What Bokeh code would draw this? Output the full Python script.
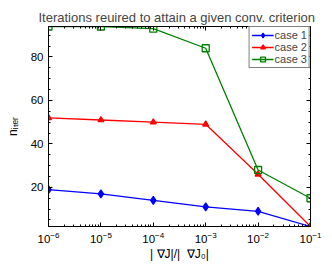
import math
from bokeh.plotting import figure
from bokeh.models import (Range1d, LogAxis, LinearAxis, FixedTicker, Legend, LegendItem)
from bokeh.embed import file_html
from bokeh.resources import INLINE

# data
criteria = [1e-6, 1e-5, 1e-4, 1e-3, 1e-2, 1e-1]
case1 = [19, 17, 14, 11, 9, 2]
case2 = [52, 51, 50, 49, 26, 2]
case3 = [94, 94, 93, 84, 28, 15]
x_major = [1e-6, 1e-5, 1e-4, 1e-3, 1e-2, 1e-1]
y_major = [20, 40, 60, 80]
y_minor = list(range(5, 95, 5))
title_text = "Iterations reuired to attain a given conv. criterion"
x_label = "| \u2207J|/|\u00a0\u00a0\u2207J\u2080|"
y_label = "n\u1d62\u209c\u2091\u1d63"

FONT = "Liberation Sans"

x_minor = [m * 10.0 ** e for e in range(-6, -1) for m in range(2, 10)]

p = figure(width=330, height=263, output_backend="svg", toolbar_location=None,
           x_axis_type="log", x_range=Range1d(1e-6, 1e-1), y_range=Range1d(2, 94),
           min_border_left=48, min_border_right=20, min_border_top=26, min_border_bottom=35,
           title=title_text)
p.xgrid.visible = False
p.ygrid.visible = False
p.outline_line_color = "black"
p.background_fill_color = "white"
p.border_fill_color = "white"
p.title.text_font = FONT
p.title.text_font_size = "13px"
p.title.text_font_style = "normal"
p.title.align = "left"
p.title.offset = -10
p.title.standoff = 3

def style_axis(ax, show_labels=True):
    ax.major_tick_in = 4
    ax.major_tick_out = 0
    ax.minor_tick_in = 2
    ax.minor_tick_out = 0
    ax.axis_line_color = "black"
    ax.major_tick_line_color = "black"
    ax.minor_tick_line_color = "black"
    ax.major_label_text_font = FONT
    if show_labels:
        ax.major_label_text_font_size = "11.5px"
        ax.major_label_standoff = 5
        ax.major_label_text_color = "black"
        ax.axis_label_text_font = FONT
        ax.axis_label_text_font_size = "12px"
        ax.axis_label_text_font_style = "normal"
        ax.axis_label_text_color = "black"
    else:
        ax.major_label_text_font_size = "1px"
        ax.major_label_standoff = 0
        ax.major_label_text_alpha = 0

xt = FixedTicker(ticks=x_major, minor_ticks=x_minor)
yt = FixedTicker(ticks=y_major, minor_ticks=y_minor)

p.xaxis.ticker = xt
p.yaxis.ticker = yt
style_axis(p.xaxis[0])
style_axis(p.yaxis[0])
p.xaxis.axis_label = x_label
p.yaxis.axis_label = y_label
p.xaxis.axis_label_standoff = 1
p.yaxis.axis_label_standoff = 8

top = LogAxis(ticker=FixedTicker(ticks=x_major, minor_ticks=x_minor))
style_axis(top, False)
right = LinearAxis(ticker=FixedTicker(ticks=y_major, minor_ticks=y_minor))
style_axis(right, False)
p.add_layout(top, "above")
p.add_layout(right, "right")

l1 = p.line(criteria, case1, line_color="#0000ff", line_width=1.3)
m1 = p.scatter(criteria, case1, marker="diamond", size=8, line_color="#0000ff", fill_color="#0000ff", line_width=1.2)
l2 = p.line(criteria, case2, line_color="#ff0000", line_width=1.3)
m2 = p.scatter(criteria, case2, marker="triangle", size=6, line_color="#ff0000", fill_color="#ff0000", line_width=1.2)
l3 = p.line(criteria, case3, line_color="#008000", line_width=1.3)
m3 = p.scatter(criteria, case3, marker="square", size=7, line_color="#008000", fill_color=None, line_width=1.3)

legend = Legend(items=[LegendItem(label="case 1", renderers=[l1, m1]),
                       LegendItem(label="case 2", renderers=[l2, m2]),
                       LegendItem(label="case 3", renderers=[l3, m3])],
                location="top_right", margin=0, padding=2, spacing=0,
                label_text_font=FONT, label_text_font_size="11px",
                label_standoff=1, glyph_width=22, glyph_height=12, label_height=12,
                border_line_color="black", background_fill_alpha=1.0)
p.add_layout(legend)

open("out.html", "w").write(file_html(p, INLINE))
